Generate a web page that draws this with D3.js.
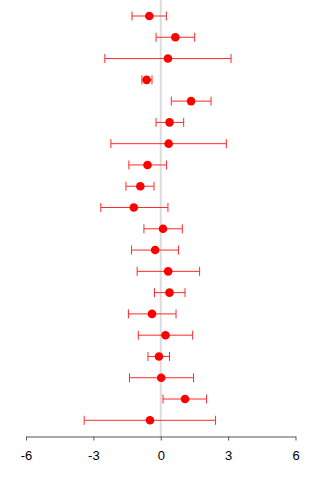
<!DOCTYPE html>
<html>
<head>
<meta charset="utf-8">
<script src="https://cdn.jsdelivr.net/npm/d3@7"></script>
<style>
  html, body { margin: 0; padding: 0; background: #fff; }
  svg { display: block; }
</style>
</head>
<body>
<svg id="chart" width="320" height="480"></svg>
<script>
// Study rows, top to bottom
const rows = d3.range(1, 21);
// Point estimates
const estimate = [-0.51, 0.65, 0.32, -0.63, 1.35, 0.39, 0.35, -0.59, -0.91, -1.20,
                  0.10, -0.25, 0.33, 0.39, -0.39, 0.21, -0.08, 0.02, 1.08, -0.48];
// Lower confidence limits
const lower = [-1.28, -0.21, -2.49, -0.84, 0.47, -0.21, -2.22, -1.42, -1.55, -2.67,
               -0.75, -1.30, -1.05, -0.28, -1.44, -1.00, -0.57, -1.39, 0.10, -3.41];
// Upper confidence limits
const upper = [0.25, 1.51, 3.13, -0.39, 2.24, 1.02, 2.92, 0.26, -0.30, 0.32,
               0.96, 0.79, 1.73, 1.08, 0.68, 1.42, 0.39, 1.46, 2.04, 2.44];
// Axis ticks
const xTicks = [-6, -3, 0, 3, 6];

const data = rows.map((r, i) => ({ row: r, est: estimate[i], lo: lower[i], hi: upper[i] }));

const svg = d3.select("#chart");
const x = d3.scaleLinear().domain([-6, 6]).range([26, 295.5]);
const y = d3.scaleLinear().domain([1, 20]).range([16, 420.3]);
const axisY = 436.5;

// zero reference line
svg.append("line")
  .attr("x1", x(0)).attr("x2", x(0))
  .attr("y1", 0).attr("y2", axisY)
  .attr("stroke", "#dcdcdc").attr("stroke-width", 2);

// x axis (plain hyphen for negatives)
const axis = svg.append("g")
  .attr("transform", `translate(0,${axisY})`)
  .call(d3.axisBottom(x).tickValues(xTicks).tickSize(4).tickSizeOuter(0).tickPadding(10)
        .tickFormat(d => String(d)));
axis.select(".domain").attr("stroke", "#555").attr("stroke-width", 1);
axis.selectAll(".tick line").attr("stroke", "#555");
axis.selectAll(".tick text")
  .attr("fill", "#000")
  .style("font-family", "'Liberation Sans', Arial, sans-serif")
  .style("font-size", "13px");

// confidence intervals
const g = svg.append("g").attr("stroke", "#ff2a2a").attr("stroke-width", 1).attr("fill", "none");
g.selectAll("line.ci").data(data).join("line")
  .attr("class", "ci")
  .attr("x1", d => x(d.lo)).attr("x2", d => x(d.hi))
  .attr("y1", d => y(d.row)).attr("y2", d => y(d.row));
g.selectAll("line.capL").data(data).join("line")
  .attr("class", "capL")
  .attr("x1", d => x(d.lo)).attr("x2", d => x(d.lo))
  .attr("y1", d => y(d.row) - 4.5).attr("y2", d => y(d.row) + 4.5);
g.selectAll("line.capR").data(data).join("line")
  .attr("class", "capR")
  .attr("x1", d => x(d.hi)).attr("x2", d => x(d.hi))
  .attr("y1", d => y(d.row) - 4.5).attr("y2", d => y(d.row) + 4.5);

// point estimates
svg.append("g").selectAll("circle").data(data).join("circle")
  .attr("cx", d => x(d.est)).attr("cy", d => y(d.row))
  .attr("r", 4.3).attr("fill", "#ff0000");
</script>
</body>
</html>
